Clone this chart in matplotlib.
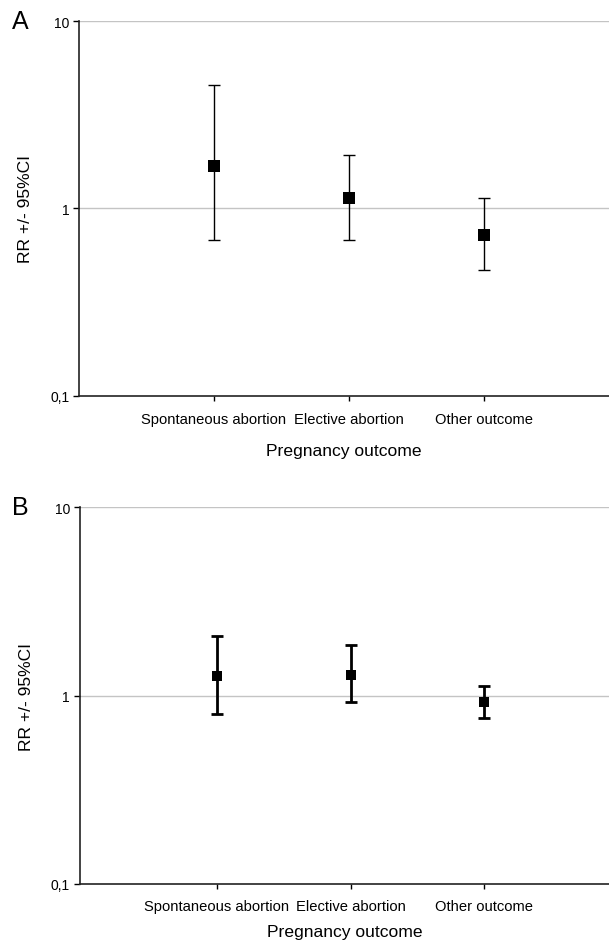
import matplotlib
matplotlib.use("Agg")
import matplotlib.pyplot as plt
import numpy as np

plt.rcParams['font.family'] = ['Liberation Sans', 'DejaVu Sans']

categories = ["Spontaneous abortion", "Elective abortion", "Other outcome"]
ytick_vals = [0.1, 1, 10]
ytick_labels = ["0,1", "1", "10"]

# Panel A
rr_a = [1.68, 1.14, 0.72]
lo_a = [0.68, 0.68, 0.47]
hi_a = [4.55, 1.94, 1.14]

# Panel B
rr_b = [1.27, 1.29, 0.92]
lo_b = [0.80, 0.92, 0.76]
hi_b = [2.06, 1.86, 1.13]

fig = plt.figure(figsize=(6.09, 9.45), dpi=100)

def panel(rect, rr, lo, hi, letter, lw, ms, capsize, xlim0, xlabpad, tickpad):
    ax = fig.add_axes(rect)
    x = np.arange(1, len(categories) + 1)
    rr = np.array(rr); lo = np.array(lo); hi = np.array(hi)
    ax.errorbar(x, rr, yerr=[rr - lo, hi - rr], fmt='none',
                ecolor='black', elinewidth=lw, capsize=capsize, capthick=lw,
                zorder=3)
    ax.plot(x, rr, 's', color='black', markersize=ms, markeredgewidth=0,
            linestyle='none', zorder=4)
    ax.set_yscale('log')
    ax.set_ylim(0.1, 10)
    ax.set_xlim(xlim0, 3.93)
    ax.set_yticks(ytick_vals)
    ax.set_yticklabels(ytick_labels)
    ax.yaxis.set_minor_locator(matplotlib.ticker.NullLocator())
    ax.set_xticks(x)
    ax.set_xticklabels(categories)
    for y in [1, 10]:
        ax.axhline(y, color='#c4c4c4', lw=1.0, zorder=1)
    ax.spines['top'].set_visible(False)
    ax.spines['right'].set_visible(False)
    ax.spines['left'].set_color('#222222')
    ax.spines['bottom'].set_color('#222222')
    ax.spines['left'].set_linewidth(1.2)
    ax.spines['bottom'].set_linewidth(1.2)
    ax.tick_params(axis='y', length=4, width=1, pad=3, labelsize=10)
    ax.tick_params(axis='x', length=3.5, width=1, pad=tickpad, labelsize=10.6)
    ax.set_ylabel("RR +/- 95%CI", fontsize=12.5, labelpad=12)
    ax.set_xlabel("Pregnancy outcome", fontsize=12.6, labelpad=xlabpad)
    fig.text(0.02, rect[1] + rect[3], letter, fontsize=18, ha='left', va='center')
    return ax

panel([0.1297, 0.580, 0.8703, 0.3967], rr_a, lo_a, hi_a, "A", 1.0, 8.5, 4, 0.0, 12, 8)
panel([0.131, 0.0635, 0.869, 0.3989], rr_b, lo_b, hi_b, "B", 2.0, 7.2, 4, -0.022, 8, 7)

fig.savefig("out.png", dpi=100)
